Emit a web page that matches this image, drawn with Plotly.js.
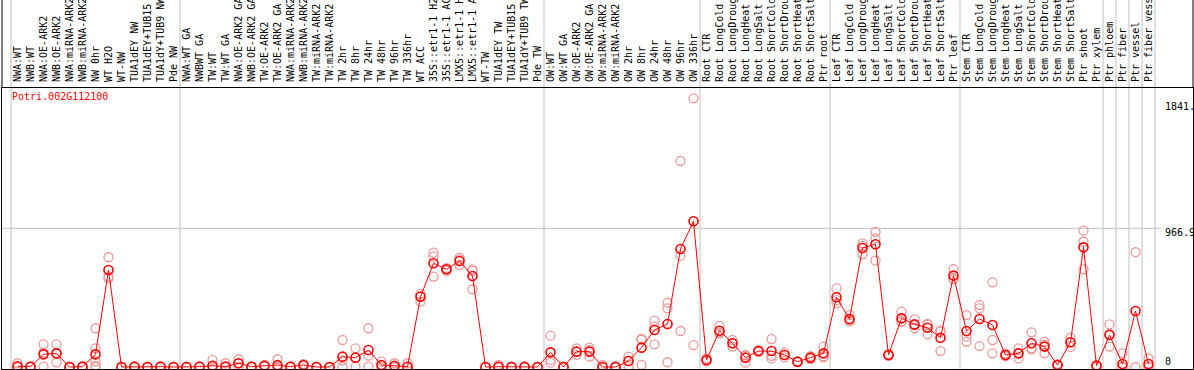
<!DOCTYPE html>
<html><head><meta charset="utf-8">
<script src="https://cdn.plot.ly/plotly-3.0.1.min.js"></script>
<style>html,body{margin:0;padding:0;background:#fff;} #chart{width:1194px;height:370px;}</style>
</head><body><div id="chart"></div>
<script>
const geneId = 'Potri.002G112100';

const categories = [
  'NWA:WT','NWB:WT','NWA:OE-ARK2','NWB:OE-ARK2','NWA:miRNA-ARK2','NWB:miRNA-ARK2','NW 0hr','WT H2O','WT-NW','TUA1dEY NW','TUA1dEY+TUB15 NW','TUA1dY+TUB9 NW','Pde NW',
  'NWA:WT GA','NWBWT GA','TW:WT','TW:WT GA','NWA:OE-ARK2 GA','NWB:OE-ARK2 GA','TW:OE-ARK2','TW:OE-ARK2 GA','NWA:miRNA-ARK2 GA','NWB:miRNA-ARK2 GA','TW:miRNA-ARK2','TW:miRNA-ARK2 GA',
  'TW 2hr','TW 8hr','TW 24hr','TW 48hr','TW 96hr','TW 336hr','WT ACC','35S::etr1-1 H2O','35S::etr1-1 ACC','LMX5::etr1-1 H2O','LMX5::etr1-1 ACC','WT-TW','TUA1dEY TW','TUA1dEY+TUB15 TW','TUA1dY+TUB9 TW','Pde TW',
  'OW:WT','OW:WT GA','OW:OE-ARK2','OW:OE-ARK2 GA','OW:miRNA-ARK2','OW:miRNA-ARK2 GA','OW 2hr','OW 8hr','OW 24hr','OW 48hr','OW 96hr','OW 336hr',
  'Root CTR','Root LongCold','Root LongDrought','Root LongHeat','Root LongSalt','Root ShortCold','Root ShortDrought','Root ShortHeat','Root ShortSalt','Ptr root',
  'Leaf CTR','Leaf LongCold','Leaf LongDrought','Leaf LongHeat','Leaf LongSalt','Leaf ShortCold','Leaf ShortDrought','Leaf ShortHeat','Leaf ShortSalt','Ptr leaf',
  'Stem CTR','Stem LongCold','Stem LongDrought','Stem LongHeat','Stem LongSalt','Stem ShortCold','Stem ShortDrought','Stem ShortHeat','Stem ShortSalt','Ptr shoot','Ptr xylem',
  'Ptr phloem','Ptr fiber','Ptr vessel','Ptr fiber vessel'
];

const groupSizes = [13, 28, 12, 10, 10, 11, 1, 1, 1, 1];

const meanValues = [
  5, 2, 88, 95, 0, 2, 88, 676, 0, 2, 0, 2, 0,
  0, 2, 9, 3, 26, 2, 9, 13, 2, 14, 0, 0,
  72, 65, 118, 14, 9, 2, 490, 723, 681, 739, 634, 0, 2, 0, 0, 0,
  102, 0, 107, 107, 0, 0, 42, 135, 258, 300, 823, 1016,
  49, 253, 165, 65, 111, 111, 84, 37, 65, 95,
  486, 334, 830, 856, 84, 339, 297, 274, 204, 637,
  251, 335, 293, 84, 95, 165, 142, 14, 172, 834, 9,
  223, 21, 390, 21
];

const replicateValues = [
  [26,0,0],[0,5,0],[158,100,2],[158,95,33],[0,0,0],[5,0,0],[270,130,40,10,0],[765,630,618],[0,0,0],[5,0,0],[0,0,0],[5,0,0],[0,0,0],
  [0,0,0],[5,2,0],[49,0,0],[26,0,0],[54,26,0],[5,0,0],[15,5,5],[54,0,0],[5,0,0],[20,14,5],[0,0,0],[0,0,0],
  [188,44,0],[130,65,2],[270,79,2],[37,5,0],[26,0,0],[26,0,0],[510,495,455],[797,769,630],[690,681,670],[762,750,711],[681,670,542],[0,0,0],[14,0,0],[0,0,0],[5,0,0],[0,0,0],
  [218,49,30],[0,0,0],[130,107,85],[135,120,72],[14,0,0],[5,0,0],[72,42,5],[198,190,14],[323,281,158],[448,409,33],[1436,776,251],[1873,153],
  [60,49,40],[286,240,235],[188,165,142],[84,80,30],[118,111,105],[195,78,60],[100,84,67],[40,37,33],[75,65,55],[142,75,67],
  [548,466,444],[362,320,320],[862,845,786],[941,897,741],[90,84,78],[386,316,316],[332,290,270],[300,293,228],[246,255,111],[683,613,615],
  [362,211,176],[432,409,146],[590,188,95],[95,84,75],[130,95,60],[242,130,123],[176,155,95],[20,14,8],[204,172,140],[950,873,681],[14,9,5],
  [297,230,142],[95,0,0],[800,0],[60,5,0]
];

const yTickVals = [0, 966.9, 1841];
const yTickText = ['0', '966.9', '1841.'];

const idx = categories.map((_, i) => i);
const repX = [], repY = [];
replicateValues.forEach((arr, i) => arr.forEach(v => { repX.push(i); repY.push(v); }));

const mono = 'DejaVu Sans Mono, monospace';

// group separators
const seps = [-0.5];
let acc = 0;
groupSizes.forEach(s => { acc += s; seps.push(acc - 0.5); });

const W = 1194, H = 370;
const M = {l: 2, r: 1, t: 88, b: 1};
const plotH = H - M.t - M.b;
const topPaper = 1 + M.t / plotH;

const shapes = [];
seps.forEach(s => shapes.push({type:'line', xref:'x', yref:'paper', x0:s, x1:s, y0:0, y1:topPaper,
  line:{color:'#c0c0c0', width:1}, layer:'below'}));
// mid horizontal gridline
shapes.push({type:'line', xref:'paper', yref:'y', x0:0, x1:0.973, y0:yTickVals[1], y1:yTickVals[1],
  line:{color:'#c0c0c0', width:1}, layer:'below'});
// outer frame continuing into label area
shapes.push({type:'line', xref:'paper', yref:'paper', x0:0, x1:0, y0:1, y1:topPaper, line:{color:'black', width:1}});
shapes.push({type:'line', xref:'paper', yref:'paper', x0:1, x1:1, y0:1, y1:topPaper, line:{color:'black', width:1}});

const shifts = [5, -4, -4];
const annotations = yTickVals.map((v, k) => ({
  xref:'paper', yref:'y', x:0.975, y:v, xanchor:'left', yanchor:'middle', yshift:shifts[k],
  text:yTickText[k], showarrow:false, font:{family:mono, size:10, color:'black'}
}));
annotations.push({xref:'paper', yref:'paper', x:0.0067, y:0.968, xanchor:'left', yanchor:'middle',
  text:geneId, showarrow:false, font:{family:mono, size:10, color:'red'}});

const traces = [
  {x: repX, y: repY, type:'scatter', mode:'markers', hoverinfo:'skip',
   marker:{symbol:'circle-open', size:9, color:'#eb9a9a', line:{width:1.3, color:'#eb9a9a'}}},
  {x: idx, y: meanValues, type:'scatter', mode:'lines+markers',
   line:{color:'red', width:1},
   marker:{symbol:'circle-open', size:9, color:'red', line:{width:1.6, color:'red'}}}
];

const layout = {
  width: W, height: H, margin: M,
  paper_bgcolor:'white', plot_bgcolor:'rgba(0,0,0,0)',
  showlegend:false,
  xaxis:{range:[-1.1923, 90.423], side:'top', tickmode:'array', tickvals: idx, ticktext: categories,
    tickangle:-90, tickfont:{family:mono, size:10, color:'black'}, ticks:'', ticklabelstandoff:3,
    showgrid:false, zeroline:false,
    showline:true, mirror:true, linecolor:'black', linewidth:1, automargin:false},
  yaxis:{range:[-14.0, 1944.9], showticklabels:false, ticks:'', showgrid:false, zeroline:false,
    showline:true, mirror:true, linecolor:'black', linewidth:1, automargin:false},
  shapes: shapes, annotations: annotations
};

Plotly.newPlot('chart', traces, layout, {displayModeBar:false, staticPlot:true});
</script>
</body></html>
